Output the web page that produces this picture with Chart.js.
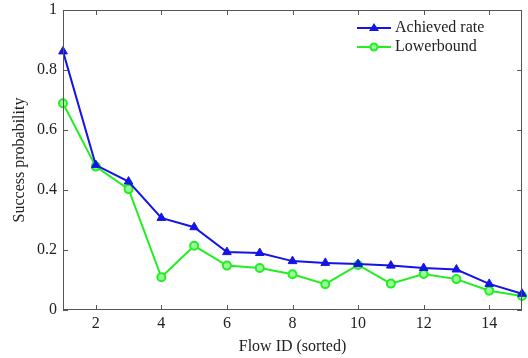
<!DOCTYPE html>
<html>
<head>
<meta charset="utf-8">
<script src="https://cdn.jsdelivr.net/npm/chart.js@4/dist/chart.umd.min.js"></script>
<style>
html,body{margin:0;padding:0;background:#fff;}
#wrap{width:528px;height:358px;position:relative;}
</style>
</head>
<body>
<div id="wrap"><canvas id="c" width="528" height="358"></canvas></div>
<script>
const flowIds = [1,2,3,4,5,6,7,8,9,10,11,12,13,14,15];
const achievedRate = [0.862,0.483,0.428,0.307,0.276,0.193,0.19,0.163,0.157,0.153,0.148,0.14,0.135,0.087,0.054];
const lowerBound = [0.689,0.478,0.403,0.109,0.214,0.148,0.14,0.119,0.086,0.15,0.088,0.12,0.103,0.064,0.047];
const xTicks = [2,4,6,8,10,12,14];
const yTicks = [0,0.2,0.4,0.6,0.8,1];
const seriesNames = ['Achieved rate','Lowerbound'];

const FONT = 'Liberation Serif';
const AXIS = '#555';
const BLUE = '#1414e6';
const GREEN = '#22ee22';

const frame = {
  id:'frame',
  afterDatasetsDraw(chart){
    const {ctx, chartArea:a, scales:{x,y}} = chart;
    ctx.save();
    ctx.strokeStyle = AXIS;
    ctx.lineWidth = 1;
    ctx.strokeRect(a.left+0.5, a.top+0.5, a.right-a.left-1, a.bottom-a.top-1);
    const L = 5;
    ctx.beginPath();
    xTicks.forEach(v=>{
      const px = Math.round(x.getPixelForValue(v))+0.5;
      ctx.moveTo(px,a.bottom); ctx.lineTo(px,a.bottom-L);
      ctx.moveTo(px,a.top); ctx.lineTo(px,a.top+L);
    });
    yTicks.forEach(v=>{
      const py = Math.round(y.getPixelForValue(v))+0.5;
      ctx.moveTo(a.left,py); ctx.lineTo(a.left+L,py);
      ctx.moveTo(a.right,py); ctx.lineTo(a.right-L,py);
    });
    ctx.stroke();
    // legend
    const items = [
      {name:seriesNames[0], color:BLUE, style:'triangle', y:a.top+18},
      {name:seriesNames[1], color:GREEN, style:'circle', y:a.top+37}
    ];
    const x0 = 357, x1 = 391;
    items.forEach(it=>{
      ctx.strokeStyle = it.color; ctx.lineWidth = 2;
      ctx.beginPath(); ctx.moveTo(x0,it.y); ctx.lineTo(x1,it.y); ctx.stroke();
      const cx=(x0+x1)/2;
      if(it.style==='triangle'){
        ctx.fillStyle=it.color;
        ctx.beginPath(); ctx.moveTo(cx,it.y-5); ctx.lineTo(cx+5,it.y+3); ctx.lineTo(cx-5,it.y+3); ctx.closePath(); ctx.fill();
      } else {
        ctx.fillStyle='#9f9';
        ctx.beginPath(); ctx.arc(cx,it.y,3.5,0,Math.PI*2); ctx.fill(); ctx.stroke();
      }
      ctx.fillStyle='#222';
      ctx.font = '16px "'+FONT+'"';
      ctx.textBaseline='middle'; ctx.textAlign='left';
      ctx.fillText(it.name, 395, it.y);
    });
    ctx.restore();
  }
};

new Chart(document.getElementById('c'), {
  type:'line',
  data:{
    datasets:[
      {label:seriesNames[0], data:flowIds.map((f,i)=>({x:f,y:achievedRate[i]})),
       borderColor:BLUE, backgroundColor:BLUE, borderWidth:2, pointStyle:'triangle',
       pointRadius:5, pointBorderWidth:1, tension:0, clip:false},
      {label:seriesNames[1], data:flowIds.map((f,i)=>({x:f,y:lowerBound[i]})),
       borderColor:GREEN, backgroundColor:'#9f9', borderWidth:2, pointStyle:'circle',
       pointRadius:4, pointBorderWidth:2, tension:0, clip:false}
    ]
  },
  options:{
    responsive:false, animation:false, devicePixelRatio:1,
    layout:{padding:{left:0,right:5,top:10,bottom:0}},
    plugins:{legend:{display:false}, tooltip:{enabled:false}},
    scales:{
      x:{type:'linear', min:1, max:15,
        afterBuildTicks(s){ s.ticks = xTicks.map(v=>({value:v})); },
        afterFit(s){ s.height = 48; s.paddingLeft = 0; s.paddingRight = 0; },
        grid:{display:false, drawTicks:false}, border:{display:false},
        ticks:{color:'#222', font:{family:FONT,size:16}, padding:4, maxRotation:0, autoSkip:false},
        title:{display:true, text:'Flow ID (sorted)', color:'#222', font:{family:FONT,size:16}, padding:{top:0,bottom:2}}
      },
      y:{type:'linear', min:0, max:1,
        afterBuildTicks(s){ s.ticks = yTicks.map(v=>({value:v})); },
        afterFit(s){ s.width = 63; s.paddingTop = 0; s.paddingBottom = 0; },
        grid:{display:false, drawTicks:false}, border:{display:false},
        ticks:{color:'#222', font:{family:FONT,size:16}, padding:6, callback:v=>String(v)},
        title:{display:true, text:'Success probability', color:'#222', font:{family:FONT,size:16}, padding:{top:10,bottom:0}}
      }
    }
  },
  plugins:[frame]
});
</script>
</body>
</html>
